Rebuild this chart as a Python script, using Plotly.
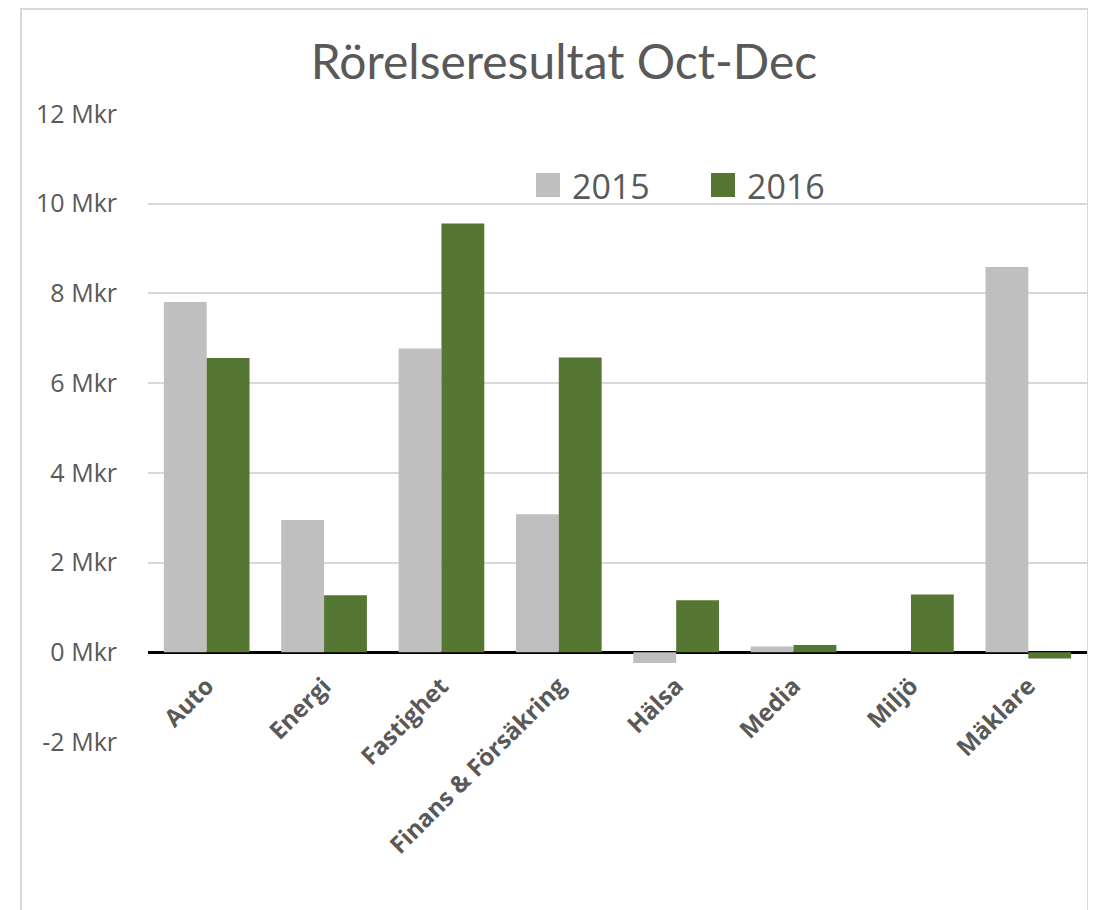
import plotly.graph_objects as go

categories = ["Auto", "Energi", "Fastighet", "Finans & Försäkring", "Hälsa", "Media", "Miljö", "Mäklare"]
values_2015 = [7.81, 2.95, 6.77, 3.08, -0.24, 0.13, 0.0, 8.59]
values_2016 = [6.56, 1.27, 9.56, 6.57, 1.16, 0.16, 1.29, -0.14]
series_names = ["2015", "2016"]
series_colors = ["#BFBFBF", "#567733"]
y_ticks = [-2, 0, 2, 4, 6, 8, 10, 12]
y_tick_labels = [f"{v} Mkr" for v in y_ticks]
y_range = [-2, 12]

OFF = 8  # page body margin
W, H = 1096, 910
L, R, T, B = 148 - OFF, 17, 114 - OFF, H - (742 - OFF)
pw = W - L - R
ph = H - T - B

fig = go.Figure()
for name, vals, col in zip(series_names, [values_2015, values_2016], series_colors):
    fig.add_bar(x=categories, y=vals, name=name, marker_color=col,
                marker_line_width=0, showlegend=False)

def px_x(p):
    return (p - OFF - L) / pw

def px_y(p):
    return (H - B - (p - OFF)) / ph

zero_pos = (0 - y_range[0]) / (y_range[1] - y_range[0])

fig.update_layout(
    width=W, height=H,
    margin=dict(l=L, r=R, t=T, b=B),
    paper_bgcolor="white", plot_bgcolor="white",
    barmode="group", bargap=0.27, bargroupgap=0,
    title=dict(text="Rörelseresultat Oct-Dec", x=(564 - OFF) / W, xanchor="center",
               y=1 - (62 - OFF) / H, yanchor="middle",
               font=dict(family="Lato", size=48, color="#595959")),
    xaxis=dict(tickangle=-45, showgrid=False, showline=False, ticks="",
               anchor="free", position=zero_pos, ticklabelstandoff=14,
               tickfont=dict(family="Open Sans", size=24, color="#595959", weight="bold")),
    yaxis=dict(range=y_range, tickvals=y_ticks, ticktext=y_tick_labels,
               showgrid=True, gridcolor="#D9D9D9", gridwidth=1.5,
               zeroline=True, zerolinecolor="#000000", zerolinewidth=2.5,
               ticks="", ticklabelstandoff=30,
               tickfont=dict(family="Open Sans", size=25, color="#595959")),
    showlegend=False,
)

# chart border
fig.add_shape(type="rect", xref="paper", yref="paper",
              x0=px_x(21), x1=px_x(1088), y0=px_y(940), y1=px_y(9),
              line=dict(color="#D9D9D9", width=2), fillcolor="rgba(0,0,0,0)", layer="below")

# legend (manual, to get large swatches)
legend_items = [(536, 570), (711, 745)]
for (sx, tx), name, col in zip(legend_items, series_names, series_colors):
    fig.add_shape(type="rect", xref="paper", yref="paper",
                  x0=px_x(sx), x1=px_x(sx + 24), y0=px_y(197), y1=px_y(173),
                  line=dict(width=0), fillcolor=col)
    fig.add_annotation(text=name, xref="paper", yref="paper", x=px_x(tx), y=px_y(186),
                       xanchor="left", yanchor="middle", showarrow=False,
                       font=dict(family="Open Sans", size=34, color="#595959"))

fig.write_html("out.html")
